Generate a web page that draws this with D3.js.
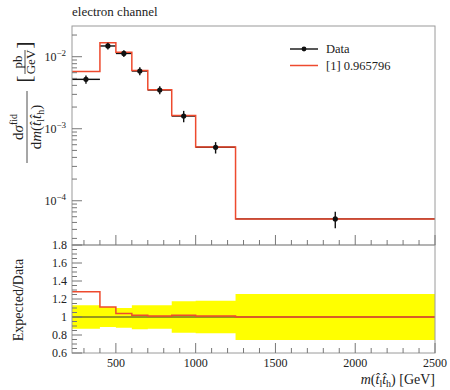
<!DOCTYPE html>
<html><head><meta charset="utf-8">
<script src="https://cdn.jsdelivr.net/npm/d3@7"></script>
<style>
body{margin:0;background:#fff;}
svg text{font-family:"Liberation Serif","Times New Roman","DejaVu Serif",serif;fill:#222;}
</style></head>
<body><svg id="c" width="450" height="390" font-family="Liberation Serif, DejaVu Serif, serif"></svg>
<script>
// ---- data ----
const binEdges = [225, 400, 500, 600, 700, 850, 1000, 1250, 2500];
const dataValues = [4.85e-3, 1.41e-2, 1.11e-2, 6.33e-3, 3.45e-3, 1.50e-3, 5.52e-4, 5.6e-5];
const dataRelErr = [0.13, 0.11, 0.11, 0.13, 0.13, 0.18, 0.18, 0.26];
const expectedValues = [6.21e-3, 1.565e-2, 1.154e-2, 6.46e-3, 3.48e-3, 1.53e-3, 5.58e-4, 5.6e-5];
const ratioValues = [1.28, 1.11, 1.04, 1.02, 1.01, 1.02, 1.01, 1.0];
const bandLow = [0.87, 0.89, 0.88, 0.865, 0.87, 0.825, 0.82, 0.745];
const bandHigh = [1.13, 1.11, 1.10, 1.13, 1.13, 1.175, 1.18, 1.255];
const xTicks = [500, 1000, 1500, 2000, 2500];
const ratioTicks = [0.6, 0.8, 1, 1.2, 1.4, 1.6, 1.8];
const mainMajorTicks = [1e-2, 1e-3, 1e-4];
const legendLabels = ["Data", "[1] 0.965796"];
const titleText = "electron channel";

const svg = d3.select("#c");
const L = 72, R = 435, T = 26, MB = 245, RB = 353;
const frame = "#9a9a9a", red = "#ee4a2e";

const x = d3.scaleLinear().domain([225, 2500]).range([L, R]);
const y = d3.scaleLog().domain([2.43e-5, 2.67e-2]).range([MB, T]);
const yr = d3.scaleLinear().domain([0.6, 1.8]).range([RB, MB]);

const bins = dataValues.map((v, i) => ({
  lo: binEdges[i], hi: binEdges[i+1], c: (binEdges[i]+binEdges[i+1])/2,
  d: v, e: v*dataRelErr[i], m: expectedValues[i], r: ratioValues[i],
  bl: bandLow[i], bh: bandHigh[i]
}));

svg.append("defs").append("clipPath").attr("id","cm").append("rect")
  .attr("x",L).attr("y",T).attr("width",R-L).attr("height",MB-T);
svg.select("defs").append("clipPath").attr("id","cr").append("rect")
  .attr("x",L).attr("y",MB).attr("width",R-L).attr("height",RB-MB);

// title
svg.append("text").attr("x", L).attr("y", 16).attr("font-size", 13).text(titleText);

// ---- main panel ----
const gm = svg.append("g").attr("clip-path","url(#cm)");
gm.selectAll(".hb").data(bins).join("line")
  .attr("x1", d=>x(d.lo)).attr("x2", d=>x(d.hi))
  .attr("y1", d=>y(d.d)).attr("y2", d=>y(d.d))
  .attr("stroke","#111").attr("stroke-width",1.4);
const stepPts = [];
bins.forEach(b => { stepPts.push([b.lo, b.m]); stepPts.push([b.hi, b.m]); });
gm.append("path").datum(stepPts)
  .attr("d", d3.line().x(p=>x(p[0])).y(p=>y(p[1])))
  .attr("fill","none").attr("stroke",red).attr("stroke-width",1.5);
gm.selectAll(".vb").data(bins).join("line")
  .attr("x1", d=>x(d.c)).attr("x2", d=>x(d.c))
  .attr("y1", d=>y(d.d - d.e)).attr("y2", d=>y(d.d + d.e))
  .attr("stroke","#111").attr("stroke-width",1.4);
gm.selectAll(".pt").data(bins).join("circle")
  .attr("cx", d=>x(d.c)).attr("cy", d=>y(d.d)).attr("r", 2.6).attr("fill","#111");

// ---- ratio panel ----
const gr = svg.append("g").attr("clip-path","url(#cr)");
const bandPts = [];
bins.forEach(b => { bandPts.push({x:b.lo, lo:b.bl, hi:b.bh}); bandPts.push({x:b.hi, lo:b.bl, hi:b.bh}); });
gr.append("path").datum(bandPts)
  .attr("d", d3.area().x(p=>x(p.x)).y0(p=>yr(p.lo)).y1(p=>yr(p.hi)))
  .attr("fill","#ffff00");
gr.append("line").attr("x1",L).attr("x2",R).attr("y1",yr(1)).attr("y2",yr(1))
  .attr("stroke","#333").attr("stroke-width",1);
const ratioPts = [];
bins.forEach(b => { ratioPts.push([b.lo, b.r]); ratioPts.push([b.hi, b.r]); });
gr.append("path").datum(ratioPts)
  .attr("d", d3.line().x(p=>x(p[0])).y(p=>yr(p[1])))
  .attr("fill","none").attr("stroke",red).attr("stroke-width",1.5);

// ---- frames ----
[[T,MB],[MB,RB]].forEach(([a,b]) => {
  svg.append("rect").attr("x",L).attr("y",a).attr("width",R-L).attr("height",b-a)
    .attr("fill","none").attr("stroke",frame).attr("stroke-width",1);
});

// ---- ticks ----
const tk = svg.append("g").attr("stroke","#777").attr("stroke-width",1);
const minorX = d3.range(300, 2500, 100).filter(v => v % 500 !== 0);
[MB, RB].forEach(yb => {
  xTicks.forEach(v => tk.append("line").attr("x1",x(v)).attr("x2",x(v)).attr("y1",yb).attr("y2",yb-10));
  minorX.forEach(v => tk.append("line").attr("x1",x(v)).attr("x2",x(v)).attr("y1",yb).attr("y2",yb-5));
});
mainMajorTicks.forEach(v => tk.append("line").attr("x1",L).attr("x2",L+10).attr("y1",y(v)).attr("y2",y(v)));
y.ticks().filter(v => Math.abs(Math.log10(v) - Math.round(Math.log10(v))) > 1e-6)
  .forEach(v => tk.append("line").attr("x1",L).attr("x2",L+5).attr("y1",y(v)).attr("y2",y(v)));
ratioTicks.forEach(v => tk.append("line").attr("x1",L).attr("x2",L+10).attr("y1",yr(v)).attr("y2",yr(v)));
d3.range(13, 36).map(k => k*0.05).filter(v => Math.abs(v*5 - Math.round(v*5)) > 1e-6)
  .forEach(v => tk.append("line").attr("x1",L).attr("x2",L+5).attr("y1",yr(v)).attr("y2",yr(v)));

// ---- tick labels ----
mainMajorTicks.forEach(v => {
  const t = svg.append("text").attr("x", L-6).attr("y", y(v)+4).attr("text-anchor","end").attr("font-size",12);
  t.append("tspan").text("10");
  t.append("tspan").attr("dy",-5).attr("font-size",9).text("\u2212" + Math.round(-Math.log10(v)));
});
ratioTicks.forEach(v => {
  svg.append("text").attr("x", L-5).attr("y", yr(v)+4).attr("text-anchor","end").attr("font-size",12)
    .text(d3.format("~g")(v));
});
xTicks.forEach(v => {
  svg.append("text").attr("x", x(v)).attr("y", 367).attr("text-anchor","middle").attr("font-size",12).text(v);
});

// ---- axis labels ----
const xl = svg.append("text").attr("x", R).attr("y", 384).attr("text-anchor","end").attr("font-size",14);
xl.append("tspan").attr("font-style","italic").text("m");
xl.append("tspan").text("(");
xl.append("tspan").attr("font-style","italic").text("t\u0302");
xl.append("tspan").attr("font-size",10).attr("dy",3).text("l");
xl.append("tspan").attr("font-style","italic").attr("dy",-3).text("t\u0302");
xl.append("tspan").attr("font-size",10).attr("dy",3).text("h");
xl.append("tspan").attr("dy",-3).text(") [GeV]");

svg.append("text").attr("transform","translate(23,300) rotate(-90)").attr("text-anchor","middle")
  .attr("font-size",14).text("Expected/Data");

// main y label
const fr = svg.append("g").attr("transform","translate(27,127) rotate(-90)");
const num = fr.append("text").attr("x",0).attr("y",-4).attr("text-anchor","middle").attr("font-size",15);
num.append("tspan").text("d");
num.append("tspan").attr("font-style","italic").text("σ");
num.append("tspan").attr("font-size",10).attr("dy",-6).text("fid");
fr.append("line").attr("x1",-36).attr("x2",36).attr("y1",0).attr("y2",0).attr("stroke","#222").attr("stroke-width",0.8);
const den = fr.append("text").attr("x",0).attr("y",14).attr("text-anchor","middle").attr("font-size",15);
den.append("tspan").text("d");
den.append("tspan").attr("font-style","italic").text("m");
den.append("tspan").text("(");
den.append("tspan").attr("font-style","italic").text("t\u0302");
den.append("tspan").attr("font-size",10).attr("dy",3).text("l");
den.append("tspan").attr("font-style","italic").attr("dy",-3).text("t\u0302");
den.append("tspan").attr("font-size",10).attr("dy",3).text("h");
den.append("tspan").attr("dy",-3).text(")");
const un = svg.append("g").attr("transform","translate(25,62) rotate(-90)");
un.append("text").attr("x",-17).attr("y",6).attr("text-anchor","middle").attr("font-size",22).text("[");
un.append("text").attr("x",17).attr("y",6).attr("text-anchor","middle").attr("font-size",22).text("]");
un.append("text").attr("x",0).attr("y",-3).attr("text-anchor","middle").attr("font-size",13).text("pb");
un.append("line").attr("x1",-12).attr("x2",12).attr("y1",0).attr("y2",0).attr("stroke","#222").attr("stroke-width",0.8);
un.append("text").attr("x",0).attr("y",10).attr("text-anchor","middle").attr("font-size",13).text("GeV");

// ---- legend ----
const lg = svg.append("g");
lg.append("line").attr("x1",290).attr("x2",318).attr("y1",49).attr("y2",49).attr("stroke","#111").attr("stroke-width",1.4);
lg.append("circle").attr("cx",304).attr("cy",49).attr("r",2.4).attr("fill","#111");
lg.append("text").attr("x",326).attr("y",53).attr("font-size",12.5).text(legendLabels[0]);
lg.append("line").attr("x1",290).attr("x2",318).attr("y1",65.5).attr("y2",65.5).attr("stroke",red).attr("stroke-width",1.5);
lg.append("text").attr("x",326).attr("y",69.5).attr("font-size",12.5).text(legendLabels[1]);
</script></body></html>
